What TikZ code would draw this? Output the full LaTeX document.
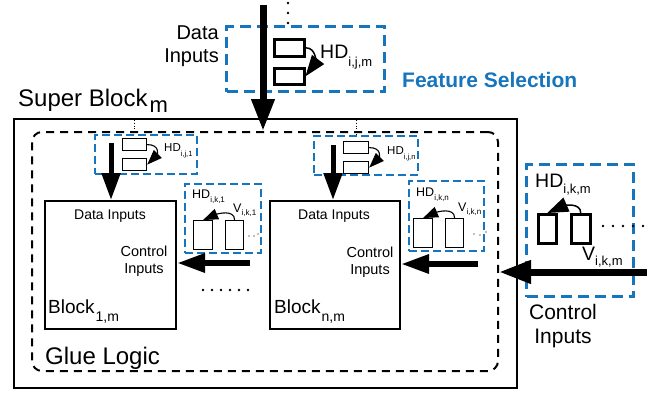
\documentclass[tikz,border=0pt]{standalone}
\usepackage{fontspec}
\setmainfont{Liberation Sans}
\usetikzlibrary{arrows.meta}
\definecolor{fsblue}{RGB}{22,117,188}
% label with a lowered index: size, text, index size, drop, index
\newcommand{\lblsub}[5]{{\fontsize{#1}{#1}\selectfont #2}\raisebox{-#4}{\fontsize{#3}{#3}\selectfont #5}}
\begin{document}
\begin{tikzpicture}[x=1pt,y=-1pt,
  box/.style={draw, line width=2pt, inner sep=0pt, anchor=north west},
  gluebox/.style={draw, line width=2pt, dash pattern=on 8pt off 6pt, rounded corners=10pt, inner sep=0pt, anchor=north west},
  fsbig/.style={draw=fsblue, line width=3pt, dash pattern=on 11pt off 6pt, inner sep=0pt, anchor=north west},
  fssmall/.style={draw=fsblue, line width=2.2pt, dash pattern=on 8pt off 4pt, inner sep=0pt, anchor=north west},
  cellbig/.style={draw, line width=2.5pt, inner sep=0pt, anchor=north west},
  cellsmall/.style={draw, line width=1.2pt, inner sep=0pt, anchor=north west},
  txt/.style={inner sep=0pt},
  bigarrow/.style={line width=7pt, -{Triangle[width=22pt,length=32pt]}},
  ctlarrow/.style={line width=6pt, -{Triangle[width=18pt,length=28pt]}},
  dataarrow/.style={line width=5pt, -{Triangle[width=18pt,length=27pt]}},
  bendbig/.style={line width=1.5pt, -{Triangle[width=15pt,length=21pt]}},
  bendsmall/.style={line width=1.1pt, -{Triangle[width=11pt,length=15pt]}},
  dotline/.style={line width=0.8pt, dotted},
  dotmark/.style={fill, circle, inner sep=0pt, minimum size=2.6pt},
  tinydot/.style={fill=gray, circle, inner sep=0pt, minimum size=1.6pt}]
\useasboundingbox (0,0) rectangle (662,394);

% super block and glue logic
\node[box, minimum width=503pt, minimum height=269pt] (super) at (13,118) {};
\node[gluebox, minimum width=466pt, minimum height=239pt] (glue) at (31,131) {};
\node[txt, anchor=base west] (superlbl) at (18,106) {\lblsub{24}{Super Block\kern2pt}{22}{6pt}{m}};
\node[txt, anchor=base west, font=\fontsize{24}{24}\selectfont] (gluelbl) at (45,364) {Glue Logic};

% blocks
\node[box, minimum width=131pt, minimum height=128pt] (b1) at (44,200) {};
\node[box, minimum width=130pt, minimum height=128pt] (bn) at (269,200) {};
\node[txt, font=\fontsize{14}{14}\selectfont] (b1data) at (110,216) {Data Inputs};
\node[txt, font=\fontsize{14}{14}\selectfont] (bndata) at (334,216) {Data Inputs};
\node[txt, align=center, font=\fontsize{14.5}{17}\selectfont] (b1ctl) at (144,261.5) {Control\\Inputs};
\node[txt, align=center, font=\fontsize{14.5}{17}\selectfont] (bnctl) at (370,262.5) {Control\\Inputs};
\node[txt, anchor=base west] (b1lbl) at (48,313) {\lblsub{19}{Block\kern1pt}{14}{8pt}{1,m}};
\node[txt, anchor=base west] (bnlbl) at (274,313) {\lblsub{19}{Block\kern1pt}{14}{8pt}{n,m}};

% feature selection on the data inputs of the super block
\node[fsbig, minimum width=158pt, minimum height=65pt] (fstop) at (225,25) {};
\node[cellbig, minimum width=30pt, minimum height=17pt] (tr1) at (273,38) {};
\node[cellbig, minimum width=30pt, minimum height=16pt] (tr2) at (273,67) {};
\node[dotmark] (td1) at (288,3) {};
\node[dotmark] (td2) at (288,13) {};
\node[dotmark] (td3) at (288,23) {};
\draw[bendbig] (tr1.east) .. controls +(12,0) and +(9,-12) .. (tr2.east);
\node[txt, anchor=base west] (hdtop) at (320,58) {\lblsub{19.5}{HD}{13}{8pt}{i,j,m}};
\node[txt, align=right, anchor=east, font=\fontsize{20}{23}\selectfont] (dinlbl) at (219,46.5) {Data\\Inputs};
\node[txt, anchor=west, text=fsblue, font=\fontsize{21}{21}\selectfont\bfseries] (fslbl) at (402,80) {Feature Selection};
\coordinate (din) at (263,5);
\draw[bigarrow] (din) -- (din |- glue.north);

% feature selection on the data inputs of block 1
\node[fssmall, minimum width=102pt, minimum height=39pt] (fsj1) at (94,134) {};
\node[cellsmall, minimum width=24pt, minimum height=12pt] (j1r1) at (122,138) {};
\node[cellsmall, minimum width=24pt, minimum height=12pt] (j1r2) at (122,158) {};
\draw[bendsmall] (j1r1.east) .. controls +(13,0) and +(10,-10) .. (j1r2.east);
\node[txt, anchor=base west] (hdj1) at (164,151) {\lblsub{11.5}{HD}{7.5}{5pt}{i,j,1}};
\coordinate (j1dots) at (134,120);
\draw[dotline] (j1dots) -- (j1dots |- fsj1.north);
\coordinate (j1src) at (111,143);
\draw[dataarrow] (j1src) -- (j1src |- b1.north);

% feature selection on the data inputs of block n
\node[fssmall, minimum width=104pt, minimum height=39pt] (fsjn) at (313,135) {};
\node[cellsmall, minimum width=25pt, minimum height=12pt] (jnr1) at (343,141) {};
\node[cellsmall, minimum width=25pt, minimum height=12pt] (jnr2) at (343,161) {};
\draw[bendsmall] (jnr1.east) .. controls +(13,0) and +(10,-10) .. (jnr2.east);
\node[txt, anchor=base west] (hdjn) at (387,154) {\lblsub{11.5}{HD}{7.5}{5pt}{i,j,n}};
\coordinate (jndots) at (356,120);
\draw[dotline] (jndots) -- (jndots |- fsjn.north);
\coordinate (jnsrc) at (333,145);
\draw[dataarrow] (jnsrc) -- (jnsrc |- bn.north);

% feature selection on the control inputs of block 1
\node[fssmall, minimum width=76pt, minimum height=69pt] (fsk1) at (184,183) {};
\node[cellsmall, minimum width=19pt, minimum height=29pt] (k1r1) at (193,220) {};
\node[cellsmall, minimum width=18pt, minimum height=29pt] (k1r2) at (225,220) {};
\draw[bendsmall] (k1r2.north) .. controls +(0,-11) and +(14,-6) .. (k1r1.north);
\node[txt, anchor=base west] (hdk1) at (192,198) {\lblsub{12.5}{HD}{8}{4pt}{i,k,1}};
\node[txt, anchor=base west] (vk1) at (233,212) {\lblsub{12.5}{V}{8}{3pt}{i,k,1}};
\node[tinydot] (k1d1) at (249,236) {};
\node[tinydot] (k1d2) at (254,236) {};
\node[tinydot] (k1d3) at (258,234) {};
\coordinate (c1src) at (250,263);
\draw[ctlarrow] (c1src) -- (c1src -| b1.east);

% feature selection on the control inputs of block n
\node[fssmall, minimum width=75pt, minimum height=70pt] (fskn) at (408,180) {};
\node[cellsmall, minimum width=19pt, minimum height=29pt] (knr1) at (413,218) {};
\node[cellsmall, minimum width=18pt, minimum height=29pt] (knr2) at (445,218) {};
\draw[bendsmall] (knr2.north) .. controls +(0,-11) and +(14,-6) .. (knr1.north);
\node[txt, anchor=base west] (hdkn) at (416,196) {\lblsub{12.5}{HD}{8}{4pt}{i,k,n}};
\node[txt, anchor=base west] (vkn) at (458,211) {\lblsub{12.5}{V}{8}{3pt}{i,k,n}};
\node[tinydot] (knd1) at (474,234) {};
\node[tinydot] (knd2) at (480,235) {};
\node[tinydot] (knd3) at (486,232) {};
\coordinate (cnsrc) at (478,264);
\draw[ctlarrow] (cnsrc) -- (cnsrc -| bn.east);

% further blocks
\foreach \i [count=\n] in {203,212,221,230,239,248}
  \node[dotmark] (bd\n) at (\i,290) {};

% feature selection on the control inputs of the super block
\node[fsbig, minimum width=107pt, minimum height=132pt] (fskm) at (525,163) {};
\node[cellbig, minimum width=18pt, minimum height=29pt] (kmr1) at (537,213) {};
\node[cellbig, minimum width=19pt, minimum height=29pt] (kmr2) at (570,213) {};
\draw[bendbig] (kmr2.north) .. controls +(0,-11) and +(16,-7) .. (kmr1.north);
\node[txt, anchor=base west] (hdkm) at (535,187) {\lblsub{19.5}{HD}{13}{6pt}{i,k,m}};
\node[txt, anchor=base west] (vkm) at (582,260) {\lblsub{19.5}{V}{13}{5pt}{i,k,m}};
\foreach \i [count=\n] in {603,613,623,633,643}
  \node[dotmark] (kmd\n) at (\i,226) {};
\coordinate (cin) at (647,272);
\draw[bigarrow] (cin) -- (cin -| glue.east);
\node[txt, align=center, font=\fontsize{21}{24}\selectfont] (cinlbl) at (563,326) {Control\\Inputs};
\end{tikzpicture}
\end{document}
